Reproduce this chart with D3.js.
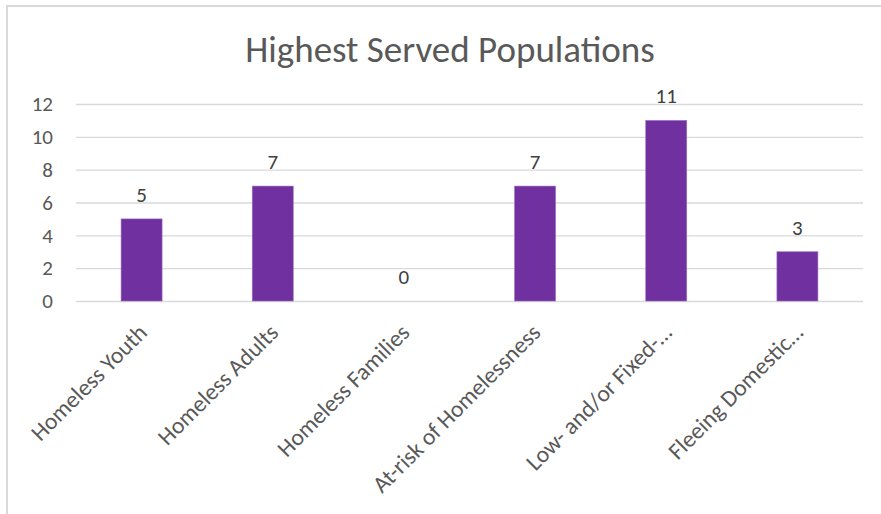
<!DOCTYPE html>
<html>
<head>
<meta charset="utf-8">
<script src="https://cdn.jsdelivr.net/npm/d3@7"></script>
<style>
  body { margin: 0; background: #fff; }
  svg text { font-family: Carlito, Calibri, Lato, sans-serif; }
</style>
</head>
<body>
<svg width="881" height="514"></svg>
<script>
// chart data
const categories = ['Homeless Youth', 'Homeless Adults', 'Homeless Families', 'At-risk of Homelessness', 'Low- and/or Fixed-…', 'Fleeing Domestic…']
const counts = [5, 7, 0, 7, 11, 3]
const yTicks = [0, 2, 4, 6, 8, 10, 12]
const chartTitle = 'Highest Served Populations'

const svg = d3.select('svg')

// outer frame (only top/left visible in the crop)
svg.append('rect')
  .attr('x', 7).attr('y', 6)
  .attr('width', 1000).attr('height', 1000)
  .attr('fill', 'none')
  .attr('stroke', '#d9d9d9')
  .attr('stroke-width', 2)

const x = d3.scaleBand()
  .domain(categories)
  .range([76, 863])
  .paddingInner(0.6875)
  .paddingOuter(0.34375)

const y = d3.scaleLinear()
  .domain([0, 12])
  .range([301, 104])

svg.append('text')
  .attr('x', 450).attr('y', 62)
  .attr('text-anchor', 'middle')
  .attr('font-size', 37)
  .attr('fill', '#595959')
  .text(chartTitle)

// gridlines + y labels
const yAxis = d3.axisLeft(y).tickValues(yTicks).tickSize(-(863 - 76)).tickPadding(23)
const gy = svg.append('g').attr('transform', 'translate(76,0)').call(yAxis)
gy.select('.domain').remove()
gy.selectAll('.tick line').attr('stroke', '#d9d9d9').attr('stroke-width', 1.3)
gy.selectAll('.tick text')
  .attr('font-size', 21)
  .attr('fill', '#595959')
  .attr('font-family', 'Carlito, Calibri, Lato, sans-serif')

// bars
svg.selectAll('.bar')
  .data(counts)
  .enter().append('rect')
    .attr('class', 'bar')
    .attr('x', (d, i) => x(categories[i]))
    .attr('y', d => y(d))
    .attr('width', x.bandwidth())
    .attr('height', d => y(0) - y(d))
    .attr('fill', '#7030a0')
    .attr('stroke', '#9a6cc0')
    .attr('stroke-width', 0.6)

// value labels
svg.selectAll('.val')
  .data(counts)
  .enter().append('text')
    .attr('class', 'val')
    .attr('x', (d, i) => x(categories[i]) + x.bandwidth() / 2)
    .attr('y', d => y(d) - 17)
    .attr('text-anchor', 'middle')
    .attr('font-size', 21)
    .attr('fill', '#404040')
    .text(d => d)

// rotated category labels
svg.selectAll('.cat')
  .data(categories)
  .enter().append('text')
    .attr('class', 'cat')
    .attr('text-anchor', 'end')
    .attr('font-size', 23.5)
    .attr('fill', '#595959')
    .attr('transform', d => `translate(${x(d) + x.bandwidth() / 2 + 7},334) rotate(-45)`)
    .text(d => d)
</script>
</body>
</html>
